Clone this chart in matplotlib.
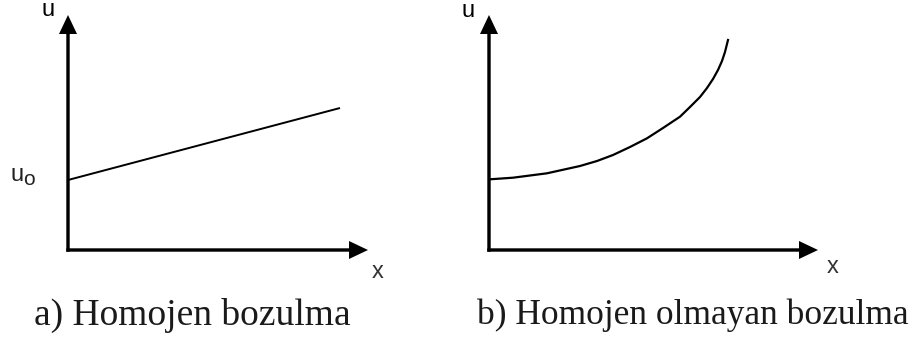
import numpy as np
import matplotlib
matplotlib.use("Agg")
import matplotlib.pyplot as plt

# panel a: straight line (local pixel-like units, origin at axes corner)
line_x = [0, 272]
line_u = [70, 142]

# panel b: rising curve
curve_x = [1, 24, 58, 91, 108, 124, 141, 158, 174, 191, 201, 211, 218, 224, 229, 233, 236, 238, 239]
curve_u = [70.7, 72.3, 76.7, 84, 89, 95, 103, 111.7, 122, 133.3, 143, 153, 162, 171, 180, 189, 198, 206, 210]

captions = ["a) Homojen bozulma", "b) Homojen olmayan bozulma"]

W, H = 912, 338
fig = plt.figure(figsize=(W / 100, H / 100), dpi=100)
fig.patch.set_facecolor("white")


def make_axes(x0, y0, w, h):
    ax = fig.add_axes([x0 / W, (H - y0) / H, w / W, h / H])
    ax.set_xlim(0, w)
    ax.set_ylim(0, h)
    ax.axis("off")
    return ax


def draw_axes_arrows(ax, xlen, ulen):
    kw = dict(width=3.4, head_width=18, head_length=19, length_includes_head=True,
              fc="black", ec="black", lw=0, clip_on=False)
    ax.arrow(0, -1.7, 0, ulen + 1.7, **kw)
    ax.arrow(-1.7, 0, xlen + 1.7, 0, **kw)


sans = "Liberation Sans"
serif = "Liberation Serif"

# --- panel a
ax1 = make_axes(68, 250, 312, 250)
draw_axes_arrows(ax1, 300, 235)
ax1.plot(line_x, line_u, color="black", lw=1.4, solid_capstyle="butt")
ax1.text(-19.5, 239.5, "u", fontsize=17, family=sans, ha="center", va="center")
ax1.text(-51, 69, "u", fontsize=17, family=sans, ha="center", va="baseline", color="#222222")
ax1.text(-39, 65, "o", fontsize=15, family=sans, ha="center", va="baseline", color="#222222")
ax1.text(310, -22, "x", fontsize=17, family=sans, ha="center", va="center", color="#333333")

# --- panel b
ax2 = make_axes(489, 250, 340, 250)
draw_axes_arrows(ax2, 329, 235)
ax2.plot(curve_x, curve_u, color="black", lw=1.6, solid_joinstyle="round")
ax2.text(-21, 239, "u", fontsize=17, family=sans, ha="center", va="center")
ax2.text(344, -17, "x", fontsize=17, family=sans, ha="center", va="center", color="#333333")

fig.text(34 / W, (H - 325) / H, captions[0], fontsize=27, family=serif,
         ha="left", va="baseline", color="#1a1a1a")
fig.text(477 / W, (H - 324) / H, captions[1], fontsize=25.5, family=serif,
         ha="left", va="baseline", color="#1a1a1a")

fig.savefig("out.png", dpi=100, facecolor="white")
